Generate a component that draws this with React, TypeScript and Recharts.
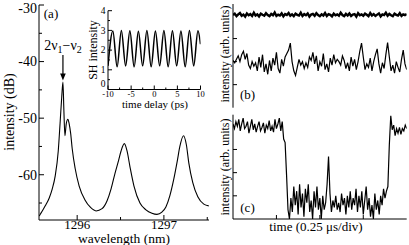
import React from "react";
import { LineChart, Line, XAxis, YAxis, ReferenceDot } from "recharts";

const FONT = "'Liberation Serif', 'Times New Roman', serif";
const INK = "#000";

// (a) optical spectrum
const wavelengthNm = [
  1295.563, 1295.586, 1295.632, 1295.678, 1295.713, 1295.747, 1295.782, 1295.805, 1295.822, 1295.836,
  1295.847, 1295.859, 1295.874, 1295.893, 1295.908, 1295.925, 1295.943, 1295.977, 1296.023, 1296.092,
  1296.149, 1296.218, 1296.287, 1296.345, 1296.391, 1296.437, 1296.477, 1296.506, 1296.544, 1296.575,
  1296.609, 1296.655, 1296.724, 1296.793, 1296.862, 1296.92, 1296.977, 1297.023, 1297.069, 1297.115,
  1297.155, 1297.184, 1297.226, 1297.259, 1297.287, 1297.333, 1297.391, 1297.46, 1297.517,
];
const intensityDb = [
  -67.3, -66.7, -65.5, -64.1, -62.5, -60.2, -55.8, -50.4, -46.3, -43.6,
  -48.7, -53.1, -51.0, -50.2, -51.0, -52.7, -55.4, -58.9, -62.0, -64.5,
  -65.7, -66.4, -66.0, -64.6, -62.5, -59.7, -57.5, -55.8, -54.5, -55.8,
  -58.6, -62.0, -65.0, -66.2, -66.8, -67.0, -66.6, -65.7, -63.7, -60.7,
  -57.5, -55.0, -53.1, -54.7, -57.9, -61.4, -63.9, -65.2, -65.5,
];
const wavelengthTicks = [1296, 1296.5, 1297, 1297.5];
const dbTicks = [-65, -60, -55, -50, -45, -40, -35, -30];

// inset: SH intensity vs delay (peaks and troughs)
const delayPs = [
  -10, -8.95, -8.03, -7.11, -6.19, -5.27, -4.35, -3.43, -2.51, -1.59, -0.67, 0.25,
  1.17, 2.09, 3.01, 3.93, 4.85, 5.77, 6.69, 7.61, 8.53, 9.45, 10,
];
const shIntensity = [
  1.2, 2.97, 1.15, 3.0, 1.2, 2.98, 1.15, 2.96, 1.2, 3.0, 1.15, 2.97,
  1.2, 3.0, 1.15, 2.98, 1.2, 2.97, 1.15, 3.0, 1.2, 2.98, 2.3,
];
const delayTicks = [-10, -7.5, -5, -2.5, 0, 2.5, 5, 7.5, 10];
const shTicks = [0, 0.5, 1, 1.5, 2, 2.5, 3, 3.5, 4];

// (b) and (c): time traces sampled evenly over 4 divisions
const bUpper = [
  4.02, 4.08, 3.97, 4.05, 4.11, 3.99, 4.04, 3.95, 4.09, 4.01, 4.06, 3.98, 4.12, 4.0, 4.05, 3.96, 4.08,
  4.03, 3.99, 4.1, 4.02, 3.97, 4.07, 4.01, 4.13, 3.98, 4.04, 4.0, 4.09, 3.96, 4.06, 4.02, 4.11, 3.99,
  4.05, 3.97, 4.08, 4.03, 4.0, 4.12, 3.98, 4.06, 4.01, 4.09, 3.95, 4.04, 4.07, 3.99, 4.1, 4.02, 3.97,
  4.05, 4.0, 4.11, 3.98, 4.06, 4.03, 3.96, 4.08, 4.01, 4.05, 3.99, 4.12, 4.02, 3.97, 4.07, 4.0, 4.09,
  3.98, 4.04, 4.06, 3.95, 4.1, 4.01, 4.05, 3.99, 4.08, 4.03, 3.97, 4.11, 4.0, 4.06, 3.98, 4.04, 4.09,
  3.96, 4.05, 4.02, 4.12, 3.99, 4.07, 4.01, 3.97, 4.08, 4.03, 4.0, 4.1, 3.98, 4.05, 4.02, 4.06,
];
const bLower = [
  2.05, 1.95, 2.1, 2.25, 2.0, 2.3, 2.45, 2.1, 2.35, 1.85,
  1.7, 2.0, 1.8, 1.95, 1.6, 2.2, 1.75, 2.3, 1.55, 1.9,
  1.45, 2.05, 1.6, 2.15, 1.85, 2.4, 1.7, 1.5, 2.1, 1.8,
  2.2, 2.35, 2.5, 2.8, 2.0, 1.6, 1.4, 1.75, 2.1, 1.85,
  2.0, 1.7, 1.95, 1.75, 2.2, 2.05, 2.4, 1.9, 2.25, 1.6,
  2.0, 1.8, 2.35, 1.65, 1.9, 1.55, 2.15, 1.85, 2.3, 1.95,
  2.1, 2.0, 1.85, 2.25, 2.05, 1.7, 1.95, 1.6, 2.2, 1.8,
  2.1, 1.65, 2.0, 2.45, 2.8, 2.2, 1.65, 1.9, 1.75, 2.15,
  1.6, 2.0, 2.3, 2.55, 1.9, 1.5, 1.95, 1.7, 2.3, 2.83,
  2.2, 1.6, 1.85, 1.5, 2.0, 1.75, 1.55, 2.1, 2.5, 1.9,
  1.65,
];
const cTrace = [
  4.1, 3.9, 4.2, 4.0, 4.3, 3.8, 4.1, 4.35, 3.9, 4.0, 4.2, 3.7, 4.0, 4.3, 3.85, 4.1, 3.75,
  4.0, 4.2, 3.8, 3.95, 4.15, 3.7, 4.05, 3.9, 4.25, 3.8, 4.0, 3.75, 4.3, 3.9, 4.1, 4.35, 3.8,
  4.2, 3.45, 3.3, 1.9, 0.4, 0.0,
  0.9, 0.3, 1.4, 0.6, 1.2, 0.2, 1.5, 0.5, 1.1, 0.1, 1.3, 0.7, 1.5, 0.3, 0.8, 0.0, 1.2, 0.5,
  1.4, 0.4, 0.9, 0.0, 1.0, 0.4, 0.7, 1.5, 2.7, 1.1, 0.3, 0.8, 0.5, 1.0, 0.4, 0.7, 0.3, 1.1,
  0.6, 0.9, 0.2, 1.0, 0.5, 1.2, 0.4, 0.9, 0.6, 1.3, 0.3, 1.0, 0.5, 1.2, 0.2, 0.8, 1.4, 0.4,
  0.9, 0.1, 0.6, 0.0, 1.1, 0.4, 0.8, 0.2, 1.0, 0.6, 1.3, 0.9, 1.2,
  1.4, 3.2, 4.45, 3.85, 4.05, 3.6, 3.9, 3.7, 3.95, 3.65, 3.9, 3.8, 4.05, 3.9,
];
const divTicks = [1, 2, 3];

const spectrum = wavelengthNm.map((x, i) => ({ x, y: intensityDb[i] }));
const autocorr = delayPs.map((x, i) => ({ x, y: shIntensity[i] }));
const toTrace = (vals: number[]) => vals.map((y, i) => ({ x: (i * 4) / (vals.length - 1), y }));

type Side = "left" | "right" | "top" | "bottom";

// inward tick marks, labels outside (like the original frame)
function frameTick(
  side: Side,
  isMajor: (v: number) => boolean,
  long: number,
  short: number,
  label?: (v: number) => string,
  fontSize = 14,
  gap = 3,
  dyOf: (v: number) => string = () => "0.35em"
) {
  return (props: any) => {
    const { x, y, payload } = props;
    const v = payload.value;
    const len = isMajor(v) ? long : short;
    let x2 = x;
    let y2 = y;
    if (side === "left") x2 = x + len;
    if (side === "right") x2 = x - len;
    if (side === "bottom") y2 = y - len;
    if (side === "top") y2 = y + len;
    const text = label && isMajor(v) ? label(v) : null;
    return (
      <g>
        <line x1={x} y1={y} x2={x2} y2={y2} stroke={INK} strokeWidth={1} />
        {text !== null && side === "left" && (
          <text x={x - gap} y={y} dy={dyOf(v)} textAnchor="end" fontFamily={FONT} fontSize={fontSize} fill={INK}>
            {text}
          </text>
        )}
        {text !== null && side === "bottom" && (
          <text x={x} y={y + gap} textAnchor="middle" fontFamily={FONT} fontSize={fontSize} fill={INK}>
            {text}
          </text>
        )}
      </g>
    );
  };
}

const ArrowMark = (p: any) => {
  const { cx, cy } = p;
  return (
    <g>
      <text x={cx} y={cy - 32} textAnchor="middle" fontFamily={FONT} fontSize={14} fill={INK}>
        2ν<tspan fontSize={10} dy={3}>1</tspan>
        <tspan dy={-3}>−ν</tspan>
        <tspan fontSize={10} dy={3}>2</tspan>
      </text>
      <line x1={cx} y1={cy - 27} x2={cx} y2={cy - 7} stroke={INK} strokeWidth={1.2} />
      <path d={`M${cx - 2.8},${cy - 8.5} L${cx + 2.8},${cy - 8.5} L${cx},${cy - 1.5} Z`} fill={INK} />
    </g>
  );
};

const isInt = (v: number) => Number.isInteger(v);

function TracePanel({ upper, lower, top, height, bottomAxis }: { upper?: number[]; lower: number[]; top: number; height: number; bottomAxis: number }) {
  const dom: [number, number] = [0, 4];
  return (
    <div style={{ position: "absolute", left: 213, top }}>
      <LineChart width={196} height={height} margin={{ top: top === 0 ? 4 : 4.7, right: 2.3, bottom: bottomAxis === 0 ? 2.3 : 0, left: 0 }}>
        <XAxis xAxisId="b" type="number" dataKey="x" domain={dom} allowDataOverflow ticks={divTicks} interval={0}
          tickSize={0} tickMargin={0} height={bottomAxis} stroke={INK} tick={frameTick("bottom", () => true, 4, 4)} />
        <XAxis xAxisId="t" orientation="top" type="number" dataKey="x" domain={dom} allowDataOverflow ticks={divTicks} interval={0}
          tickSize={0} tickMargin={0} height={0} stroke={INK} tick={frameTick("top", () => true, 4, 4)} />
        <YAxis yAxisId="l" type="number" domain={[0, 4.5]} allowDataOverflow ticks={divTicks} interval={0}
          tickSize={0} tickMargin={0} width={20} stroke={INK} tick={frameTick("left", () => true, 4, 4)} />
        <YAxis yAxisId="r" orientation="right" type="number" domain={[0, 4.5]} allowDataOverflow ticks={divTicks} interval={0}
          tickSize={0} tickMargin={0} width={0} stroke={INK} tick={frameTick("right", () => true, 4, 4)} />
        {upper && (
          <Line xAxisId="b" yAxisId="l" data={toTrace(upper)} dataKey="y" type="linear" stroke={INK}
            strokeWidth={2.4} dot={false} isAnimationActive={false} />
        )}
        <Line xAxisId="b" yAxisId="l" data={toTrace(lower)} dataKey="y" type="linear" stroke={INK}
          strokeWidth={1.2} dot={false} isAnimationActive={false} />
      </LineChart>
    </div>
  );
}

export default function App() {
  const wlDom: [number, number] = [1295.56, 1297.52];
  const dbDom: [number, number] = [-68, -30];
  return (
    <div style={{ position: "absolute", left: 0, top: 0, width: 409, height: 245, background: "#fff", overflow: "hidden" }}>
      {/* (a) spectrum */}
      <div style={{ position: "absolute", left: 0, top: 0 }}>
        <LineChart width={212} height={245} margin={{ top: 5, right: 3, bottom: 0, left: 0 }}>
          <XAxis xAxisId="b" type="number" dataKey="x" domain={wlDom} allowDataOverflow ticks={wavelengthTicks} interval={0}
            tickSize={0} tickMargin={0} height={25} stroke={INK}
            tick={frameTick("bottom", isInt, 5, 3, (v) => String(v), 13, 9)} />
          <XAxis xAxisId="t" orientation="top" type="number" dataKey="x" domain={wlDom} allowDataOverflow ticks={wavelengthTicks}
            interval={0} tickSize={0} tickMargin={0} height={0} stroke={INK} tick={frameTick("top", isInt, 5, 3)} />
          <YAxis yAxisId="l" type="number" domain={dbDom} allowDataOverflow ticks={dbTicks} interval={0}
            tickSize={0} tickMargin={0} width={39} stroke={INK}
            tick={frameTick("left", (v) => v % 10 === 0, 5, 3, (v) => String(v), 14, 2, (v) => (v === -30 ? "0.55em" : "0.35em"))} />
          <YAxis yAxisId="r" orientation="right" type="number" domain={dbDom} allowDataOverflow ticks={dbTicks} interval={0}
            tickSize={0} tickMargin={0} width={0} stroke={INK} tick={frameTick("right", (v) => v % 10 === 0, 5, 3)} />
          <Line xAxisId="b" yAxisId="l" data={spectrum} dataKey="y" type="monotone" stroke={INK}
            strokeWidth={1.1} dot={false} isAnimationActive={false} />
          <ReferenceDot xAxisId="b" yAxisId="l" x={1295.836} y={-43.6} shape={ArrowMark} />
        </LineChart>
      </div>

      {/* inset autocorrelation */}
      <div style={{ position: "absolute", left: 88, top: 0 }}>
        <LineChart width={124} height={112} margin={{ top: 10.7, right: 11.5, bottom: 0, left: 0 }}>
          <XAxis xAxisId="b" type="number" dataKey="x" domain={[-10, 10]} allowDataOverflow ticks={delayTicks} interval={0}
            tickSize={0} tickMargin={0} height={22.5} stroke={INK}
            tick={frameTick("bottom", (v) => v % 5 === 0, 4, 2, (v) => String(v), 8.5, 7.5)} />
          <XAxis xAxisId="t" orientation="top" type="number" dataKey="x" domain={[-10, 10]} allowDataOverflow ticks={delayTicks}
            interval={0} tickSize={0} tickMargin={0} height={0} stroke={INK} tick={frameTick("top", (v) => v % 5 === 0, 4, 2)} />
          <YAxis yAxisId="l" type="number" domain={[0, 4]} allowDataOverflow ticks={shTicks} interval={0}
            tickSize={0} tickMargin={0} width={20} stroke={INK}
            tick={frameTick("left", isInt, 4, 2, (v) => String(v), 9.5, 2.5, (v) => (v === 0 ? "-0.25em" : "0.35em"))} />
          <YAxis yAxisId="r" orientation="right" type="number" domain={[0, 4]} allowDataOverflow ticks={shTicks} interval={0}
            tickSize={0} tickMargin={0} width={0} stroke={INK} tick={frameTick("right", isInt, 4, 2)} />
          <Line xAxisId="b" yAxisId="l" data={autocorr} dataKey="y" type="monotone" stroke={INK}
            strokeWidth={1.5} dot={false} isAnimationActive={false} />
        </LineChart>
      </div>

      {/* (b) and (c) */}
      <TracePanel upper={bUpper} lower={bLower} top={0} height={110} bottomAxis={0} />
      <TracePanel lower={cTrace} top={110} height={135} bottomAxis={26} />

      {/* titles and panel letters */}
      <svg width={409} height={245} style={{ position: "absolute", left: 0, top: 0, pointerEvents: "none" }}>
        <g fontFamily={FONT} fill={INK}>
          <text transform="translate(9,112) rotate(-90)" textAnchor="middle" dominantBaseline="central" fontSize={14}>
            intensity (dB)
          </text>
          <text x={124} y={243} textAnchor="middle" fontSize={13.5}>wavelength (nm)</text>
          <text x={51} y={18} textAnchor="middle" fontSize={13}>(a)</text>
          <text transform="translate(93,50) rotate(-90)" textAnchor="middle" dominantBaseline="central" fontSize={12}>
            SH intensity
          </text>
          <text x={155} y={108} textAnchor="middle" fontSize={11}>time delay (ps)</text>
          <text transform="translate(225,54) rotate(-90)" textAnchor="middle" dominantBaseline="central" fontSize={12}>
            intensity (arb. units)
          </text>
          <text transform="translate(225,167) rotate(-90)" textAnchor="middle" dominantBaseline="central" fontSize={12}>
            intensity (arb. units)
          </text>
          <text x={247.5} y={98.5} textAnchor="middle" fontSize={13}>(b)</text>
          <text x={247.5} y={212} textAnchor="middle" fontSize={13}>(c)</text>
          <text x={316} y={231} textAnchor="middle" fontSize={13}>time (0.25 μs/div)</text>
        </g>
      </svg>
    </div>
  );
}
